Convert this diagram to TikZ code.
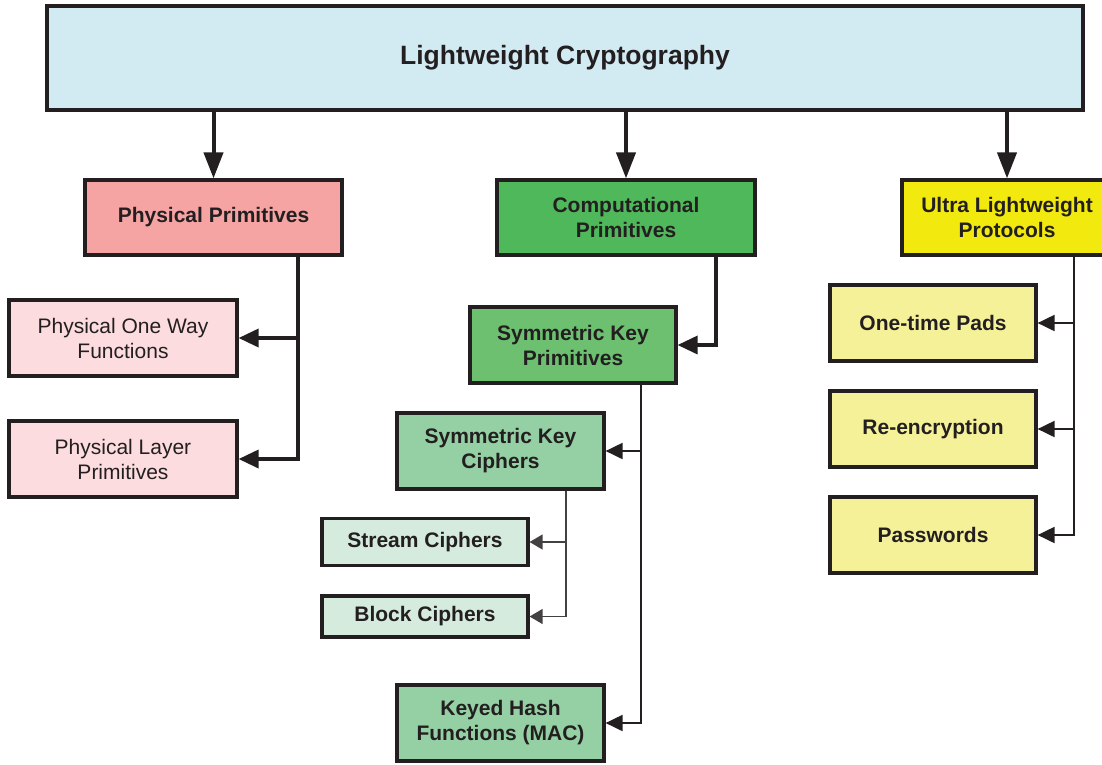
\documentclass[tikz,border=0pt]{standalone}
\usepackage{fontspec}
\setmainfont{Liberation Sans}
\usetikzlibrary{arrows.meta}
\definecolor{ink}{HTML}{231F20}
\definecolor{cTop}{HTML}{D2EBF2}
\definecolor{cPhys}{HTML}{F5A3A3}
\definecolor{cPhysL}{HTML}{FCDCDE}
\definecolor{cComp}{HTML}{4FB85A}
\definecolor{cSym}{HTML}{6CC070}
\definecolor{cCiph}{HTML}{94D0A3}
\definecolor{cCiphL}{HTML}{D5EBDD}
\definecolor{cUltra}{HTML}{F2E90F}
\definecolor{cUltraL}{HTML}{F5F199}
\tikzset{
  box/.style={draw=ink, line width=3.2pt, rectangle, align=center, text=ink,
    inner sep=0pt, font=\fontsize{21}{25}\selectfont\bfseries},
  lightbox/.style={box, font=\fontsize{21}{25}\selectfont},
  bigarrow/.style={draw=ink, line width=4pt, -{Triangle[length=26pt,width=19pt]}},
  midarrow/.style={draw=ink, line width=3.5pt, -{Triangle[length=20pt,width=18pt]}},
  thinarrow/.style={draw=ink, line width=2pt, -{Triangle[length=17pt,width=16pt]}},
  finearrow/.style={draw=ink!85, line width=1.3pt, -{Triangle[length=13pt,width=15pt]}},
}
\begin{document}
\begin{tikzpicture}[x=1pt,y=-1pt]
\useasboundingbox (0,0) rectangle (1102,764);
% root
\node[box, fill=cTop, minimum width=1036pt, minimum height=104pt,
  font=\fontsize{26.5}{30}\selectfont\bfseries] (top) at (565,58) {Lightweight Cryptography};
% second level
\node[box, fill=cPhys, minimum width=257pt, minimum height=75pt] (pp) at (213.5,217.5) {Physical Primitives};
\node[box, fill=cComp, minimum width=258pt, minimum height=75pt] (cp) at (626,217.5) {Computational\\Primitives};
\node[box, fill=cUltra, minimum width=210pt, minimum height=75pt] (ul) at (1007,217.5) {Ultra Lightweight\\Protocols};
% physical branch
\node[lightbox, fill=cPhysL, minimum width=228pt, minimum height=76pt] (pow) at (123,338) {Physical One Way\\Functions};
\node[lightbox, fill=cPhysL, minimum width=228pt, minimum height=76pt] (plp) at (123,459) {Physical Layer\\Primitives};
% computational branch
\node[box, fill=cSym, minimum width=206pt, minimum height=76pt] (skp) at (573,345) {Symmetric Key\\Primitives};
\node[box, fill=cCiph, minimum width=207pt, minimum height=76pt] (skc) at (500.5,451) {Symmetric Key\\Ciphers};
\node[box, fill=cCiph, minimum width=207pt, minimum height=76pt] (khf) at (500.5,723) {Keyed Hash\\Functions (MAC)};
\node[box, fill=cCiphL, minimum width=206pt, minimum height=47pt] (sc) at (425,542) {Stream Ciphers};
\node[box, fill=cCiphL, minimum width=206pt, minimum height=41pt] (bc) at (425,616.5) {Block Ciphers};
% ultra lightweight branch
\node[box, fill=cUltraL, minimum width=206pt, minimum height=76pt] (otp) at (933,323) {One-time Pads};
\node[box, fill=cUltraL, minimum width=206pt, minimum height=76pt] (re) at (933,429) {Re-encryption};
\node[box, fill=cUltraL, minimum width=206pt, minimum height=76pt] (pw) at (933,535) {Passwords};
% connectors
\draw[bigarrow] (top.south -| pp.north) -- (pp.north);
\draw[bigarrow] (top.south -| cp.north) -- (cp.north);
\draw[bigarrow] (top.south -| ul.north) -- (ul.north);
\draw[midarrow] ([xshift=84.5pt]pp.south) |- (pow.east);
\draw[midarrow] ([xshift=84.5pt]pp.south) |- (plp.east);
\draw[midarrow] ([xshift=90pt]cp.south) |- (skp.east);
\draw[thinarrow] ([xshift=68pt]skp.south) |- (skc.east);
\draw[thinarrow] ([xshift=68pt]skp.south) |- (khf.east);
\draw[finearrow] ([xshift=65.5pt]skc.south) |- (sc.east);
\draw[finearrow] ([xshift=65.5pt]skc.south) |- (bc.east);
\draw[thinarrow] ([xshift=67pt]ul.south) |- (otp.east);
\draw[thinarrow] ([xshift=67pt]ul.south) |- (re.east);
\draw[thinarrow] ([xshift=67pt]ul.south) |- (pw.east);
\end{tikzpicture}
\end{document}
